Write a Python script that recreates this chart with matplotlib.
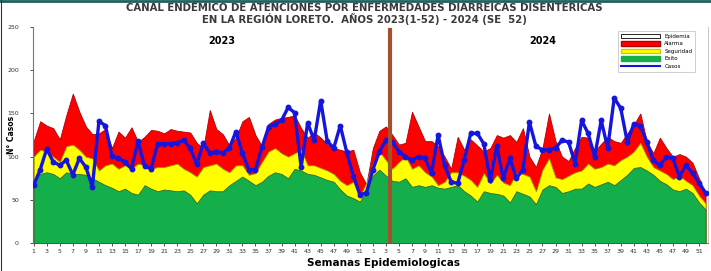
import numpy as np
import matplotlib
matplotlib.use("Agg")
import matplotlib.pyplot as plt
from matplotlib.patches import Patch
from matplotlib.lines import Line2D

# semanas 2023 (1-52) y 2024 (1-52)
semanas = list(range(1, 53)) + list(range(1, 53))

alarma = [118, 141, 136, 133, 120, 148, 173, 152, 135, 126, 127, 132, 110, 129, 122, 134, 117, 123, 131, 130,
          127, 132, 130, 129, 128, 116, 110, 154, 132, 126, 113, 122, 141, 146, 125, 112, 138, 143, 145, 146,
          148, 133, 122, 128, 122, 114, 110, 108, 106, 108, 82, 68, 110, 130, 135, 125, 114, 116, 152, 135,
          118, 118, 112, 100, 86, 123, 108, 120, 113, 106, 110, 125, 122, 125, 117, 133, 100, 88, 110, 150,
          118, 100, 95, 110, 123, 122, 106, 115, 123, 118, 116, 127, 137, 150, 117, 104, 122, 110, 100, 103,
          100, 93, 75, 55]

seguridad = [100, 108, 106, 100, 94, 112, 114, 108, 100, 98, 84, 90, 92, 86, 90, 86, 92, 90, 86, 88,
             88, 90, 92, 86, 82, 77, 88, 90, 92, 86, 82, 90, 90, 79, 81, 94, 106, 110, 104, 100,
             104, 108, 90, 90, 87, 84, 80, 72, 67, 71, 54, 70, 92, 106, 96, 86, 94, 100, 86, 90,
             82, 77, 67, 71, 82, 82, 78, 73, 65, 81, 69, 79, 70, 67, 81, 80, 77, 60, 85, 98,
             76, 74, 78, 82, 84, 92, 86, 88, 92, 90, 96, 100, 106, 116, 100, 88, 84, 80, 74, 78,
             72, 67, 55, 46]

exito = [73, 80, 82, 80, 75, 82, 80, 80, 79, 75, 71, 67, 64, 60, 63, 58, 56, 67, 63, 60,
         62, 61, 60, 61, 56, 46, 56, 61, 60, 60, 67, 72, 77, 72, 67, 71, 78, 82, 80, 75,
         86, 84, 80, 79, 76, 73, 71, 62, 55, 52, 48, 60, 78, 85, 78, 72, 71, 75, 65, 67,
         65, 67, 64, 63, 65, 67, 60, 55, 48, 60, 58, 57, 55, 47, 60, 57, 54, 45, 62, 67,
         65, 58, 60, 63, 63, 69, 65, 68, 71, 67, 73, 79, 87, 88, 84, 79, 72, 68, 62, 60,
         63, 58, 47, 39]

casos = [67, 85, 109, 94, 90, 96, 79, 98, 88, 65, 141, 136, 101, 98, 94, 86, 118, 89, 86, 115,
         115, 115, 116, 119, 110, 91, 116, 104, 106, 104, 110, 129, 104, 85, 85, 111, 134, 138, 142, 157,
         151, 88, 139, 119, 165, 118, 110, 136, 105, 78, 56, 58,
         85, 106, 119, 117, 106, 100, 96, 100, 98, 81, 125, 90, 71, 69, 96, 127, 127, 115, 73, 112,
         75, 98, 75, 85, 140, 112, 108, 108, 110, 119, 117, 92, 142, 127, 100, 142, 110, 168, 156, 117,
         138, 136, 117, 96, 90, 100, 98, 77, 90, 81, 70, 58]

x = np.arange(len(semanas))

fig = plt.figure(figsize=(7.11, 2.71), dpi=100)
ax = fig.add_axes([0.046, 0.103, 0.95, 0.797])

# canal endemico
ax.fill_between(x, 0, alarma, color="#FF0000", edgecolor="#B00000", lw=0.6, zorder=1)
ax.fill_between(x, 0, seguridad, color="#FFFF00", edgecolor="#9A9A00", lw=0.6, zorder=2)
ax.fill_between(x, 0, exito, color="#14AE4A", edgecolor="#2E6B2E", lw=0.6, zorder=3)

ax.plot(x, casos, color="#1515DD", lw=2.4, marker="o", ms=3.2, zorder=5)

ax.axvline(54.7, ymin=0, ymax=0.985, color="#A0522D", lw=3, zorder=6)

ax.set_xlim(-0.15, 103.4)
ax.set_ylim(0, 250)
ax.set_yticks(range(0, 251, 50))
ax.set_xticks(x[::2])
ax.set_xticklabels([str(s) for s in semanas[::2]])
ax.tick_params(axis="both", labelsize=4.5, length=2, width=0.6, colors="#333333", pad=2)
ax.tick_params(axis="y", pad=8)

ax.spines["top"].set_visible(False)
ax.spines["left"].set_color("#777777")
ax.spines["bottom"].set_color("#777777")
ax.spines["right"].set_color("#BBBBBB")
ax.spines["right"].set_linewidth(0.6)

ax.set_ylabel("N° Casos", fontsize=5.5, fontweight="bold")
ax.yaxis.set_label_coords(-0.024, 0.5)
ax.set_xlabel("Semanas Epidemiologicas", fontsize=7.5, fontweight="bold")
ax.xaxis.set_label_coords(0.52, -0.07)

ax.text(0.28, 0.935, "2023", transform=ax.transAxes, ha="center", va="center",
        fontsize=7, fontweight="bold")
ax.text(0.755, 0.935, "2024", transform=ax.transAxes, ha="center", va="center",
        fontsize=7, fontweight="bold")

fig.text(0.512, 0.97, "CANAL ENDÉMICO DE ATENCIONES POR ENFERMEDADES DIARREICAS DISENTERICAS",
         ha="center", va="center", fontsize=7.3, fontweight="bold", color="#3A3A3A")
fig.text(0.512, 0.93, "EN LA REGIÓN LORETO.  AÑOS 2023(1-52) - 2024 (SE  52)",
         ha="center", va="center", fontsize=7.3, fontweight="bold", color="#3A3A3A")

handles = [Patch(facecolor="white", edgecolor="black", lw=0.6, label="Epidemia"),
           Patch(facecolor="#FF0000", edgecolor="#B00000", label="Alarma"),
           Patch(facecolor="#FFFF00", edgecolor="#CCCC00", label="Seguridad"),
           Patch(facecolor="#14AE4A", edgecolor="#14AE4A", label="Exito"),
           Line2D([], [], color="#1515DD", lw=1.5, label="Casos")]
leg = ax.legend(handles=handles, loc="upper right", bbox_to_anchor=(0.985, 0.995),
                fontsize=4, handlelength=7, handleheight=0.8, labelspacing=0.45,
                fancybox=False, framealpha=1, borderpad=0.5)
leg.get_frame().set_edgecolor("#BBBBBB")
leg.get_frame().set_linewidth(0.5)

# borde de la figura
fig.add_artist(Line2D([0, 1], [0.995, 0.995], transform=fig.transFigure, color="#1F5F5F", lw=2))
fig.add_artist(Line2D([0.002, 0.002], [0, 1], transform=fig.transFigure, color="#333333", lw=0.8))

fig.savefig("out.png", dpi=100)
